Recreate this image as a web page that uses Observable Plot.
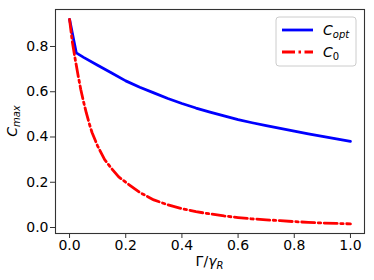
<!DOCTYPE html>
<html><head><meta charset="utf-8">
<script src="https://cdn.jsdelivr.net/npm/d3@7"></script>
<script src="https://cdn.jsdelivr.net/npm/@observablehq/plot@0.6"></script>
<style>
body{margin:0;background:#fff}
#chart svg{font-family:"DejaVu Sans",sans-serif;overflow:visible}
</style>
</head><body><div id="chart"></div>
<script>
// Gamma / gamma_R values and series
const optX = [0, 0.024, 0.05, 0.1, 0.15, 0.2, 0.25, 0.3, 0.35, 0.4, 0.45, 0.5, 0.55, 0.6, 0.65, 0.7, 0.75, 0.8, 0.85, 0.9, 0.95, 1.0];
const optY = [0.92, 0.772, 0.752, 0.717, 0.683, 0.648, 0.620, 0.595, 0.570, 0.548, 0.528, 0.510, 0.493, 0.477, 0.463, 0.450, 0.438, 0.426, 0.414, 0.403, 0.392, 0.381];
const c0X = [0, 0.01, 0.02, 0.03, 0.04, 0.05, 0.06, 0.07, 0.08, 0.09, 0.1, 0.125, 0.15, 0.175, 0.2, 0.25, 0.3, 0.35, 0.4, 0.45, 0.5, 0.55, 0.6, 0.65, 0.7, 0.75, 0.8, 0.85, 0.9, 0.95, 1.0];
const c0Y = [0.92, 0.82, 0.745, 0.675, 0.61, 0.555, 0.505, 0.46, 0.42, 0.39, 0.36, 0.30, 0.26, 0.224, 0.20, 0.155, 0.122, 0.100, 0.083, 0.070, 0.060, 0.051, 0.044, 0.038, 0.034, 0.030, 0.026, 0.023, 0.020, 0.018, 0.016];
const xTicks = [0, 0.2, 0.4, 0.6, 0.8, 1.0];
const yTicks = [0, 0.2, 0.4, 0.6, 0.8];
const seriesNames = ["opt", "0"];
const colors = ["#0000ff", "#ff0000"];

const opt = optX.map((x, i) => ({x, y: optY[i]}));
const c0 = c0X.map((x, i) => ({x, y: c0Y[i]}));

const W = 374, H = 280, mL = 55, mR = 10, mT = 9, mB = 47;
const dashDot = "13,3.5,2.5,3.5";

const chart = Plot.plot({
  width: W, height: H,
  marginLeft: mL, marginRight: mR, marginTop: mT, marginBottom: mB,
  style: {fontFamily: "DejaVu Sans, sans-serif", fontSize: "14px", background: "white", color: "black"},
  x: {domain: [-0.05, 1.05]},
  y: {domain: [-0.0265, 0.9635]},
  marks: [
    Plot.line(opt, {x: "x", y: "y", stroke: colors[0], strokeWidth: 2.8}),
    Plot.line(c0, {x: "x", y: "y", stroke: colors[1], strokeWidth: 2.8, strokeDasharray: dashDot}),
    Plot.frame({stroke: "#333", strokeWidth: 1.1}),
    Plot.axisX(xTicks, {tickFormat: d => d.toFixed(1), tickSize: 5, tickPadding: 2, stroke: "#333", label: null, fontSize: 14}),
    Plot.axisY(yTicks, {tickFormat: d => d.toFixed(1), tickSize: 5, tickPadding: 2, stroke: "#333", label: null, fontSize: 14})
  ]
});
document.getElementById("chart").appendChild(chart);

const svg = d3.select(chart);
const cx = (mL + W - mR) / 2, cy = (mT + H - mB) / 2;

// x label: Γ/γ_R
const xl = svg.append("text").attr("x", cx).attr("y", 266).attr("text-anchor", "middle")
  .attr("font-size", 14).attr("fill", "black");
xl.append("tspan").text("Γ/");
xl.append("tspan").attr("font-style", "italic").text("γ");
xl.append("tspan").attr("font-style", "italic").attr("font-size", 10).attr("dy", "3").text("R");

// y label: C_max
const yl = svg.append("text").attr("transform", `translate(17,${cy}) rotate(-90)`)
  .attr("text-anchor", "middle").attr("font-size", 14).attr("fill", "black");
yl.append("tspan").attr("font-style", "italic").text("C");
yl.append("tspan").attr("font-style", "italic").attr("font-size", 10).attr("dy", "3").text("max");

// legend
const lg = svg.append("g");
lg.append("rect").attr("x", 276).attr("y", 17).attr("width", 80).attr("height", 49).attr("rx", 3)
  .attr("fill", "white").attr("fill-opacity", 0.8).attr("stroke", "#cccccc");
const rows = [{y: 30, dash: null}, {y: 52, dash: dashDot}];
rows.forEach((r, i) => {
  lg.append("line").attr("x1", 282).attr("x2", 313).attr("y1", r.y).attr("y2", r.y)
    .attr("stroke", colors[i]).attr("stroke-width", 2.8).attr("stroke-dasharray", r.dash);
  const t = lg.append("text").attr("x", 323).attr("y", r.y + 5).attr("text-anchor", "start")
    .attr("font-size", 14).attr("fill", "black");
  t.append("tspan").attr("font-style", "italic").text("C");
  const s = t.append("tspan").attr("font-size", 10).attr("dy", "3").text(seriesNames[i]);
  if (i === 0) s.attr("font-style", "italic");
});
</script>
</body></html>
